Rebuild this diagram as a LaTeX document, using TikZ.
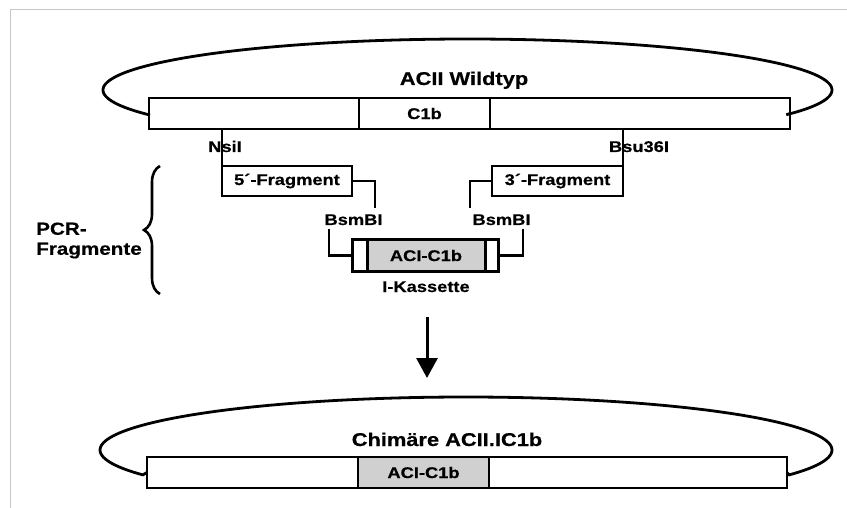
\documentclass[tikz,border=0pt]{standalone}
\usepackage{fontspec}
\setmainfont{Liberation Sans}[FakeStretch=1.18, BoldFeatures={FakeBold=0.5}]
\usetikzlibrary{arrows.meta,decorations.pathreplacing}
\definecolor{boxgray}{HTML}{D0D0D0}
\definecolor{framegray}{HTML}{C8C8C8}
\begin{document}
\begin{tikzpicture}[x=1pt,y=-1pt,
  seg/.style={draw, line width=2.8pt, minimum height=31pt, inner sep=0pt, outer sep=0pt,
    font=\bfseries\fontsize{15.5}{18}\selectfont},
  graybox/.style={seg, fill=boxgray},
  frag/.style={draw, line width=2.8pt, minimum height=30pt, inner sep=0pt, outer sep=0pt,
    font=\bfseries\fontsize{15.5}{18}\selectfont},
  conn/.style={line width=2.3pt},
  loop/.style={line width=2.8pt},
  biglab/.style={font=\bfseries\fontsize{18.5}{21}\selectfont, inner sep=0pt},
  smalllab/.style={font=\bfseries\fontsize{15.5}{18}\selectfont, inner sep=0pt},
]
\useasboundingbox (0,0) rectangle (847,508);
\draw[framegray, line width=1pt] (847,9.5) -- (10.5,9.5) -- (10.5,508);

% ---- top plasmid ----
\node[seg, minimum width=210pt] (a1) at (254,113.5) {};
\node[seg, minimum width=131pt] (a2) at (424.5,113.5) {C1b};
\node[seg, minimum width=300pt] (a3) at (640,113.5) {};
\draw[loop] (a1.west) -- plot[domain=151:389, samples=120, smooth] ({467.5+364.5*cos(\x)},{90+51*sin(\x)}) -- (a3.east);
\node[biglab, anchor=base] (tw) at (464,85) {ACII Wildtyp};

% ---- fragments ----
\node[frag, minimum width=130pt] (f5) at (287,181) {5´-Fragment};
\node[frag, minimum width=131pt] (f3) at (557.5,181) {3´-Fragment};
\draw[conn] (f5.north west |- a1.south) -- (f5.north west);
\draw[conn] (f3.north east |- a3.south) -- (f3.north east);
\node[smalllab, anchor=base] (nsi) at (225,152) {NsiI};
\node[smalllab, anchor=base] (bsu) at (639,152) {Bsu36I};

% ---- cassette ----
\node[draw, line width=3pt, minimum width=146pt, minimum height=31pt, inner sep=0pt, outer sep=0pt] (cas) at (425,255.5) {};
\node[draw, fill=boxgray, line width=3pt, minimum width=118pt, minimum height=31pt, inner sep=0pt, outer sep=0pt,
  font=\bfseries\fontsize{15.5}{18}\selectfont] (ci) at (426,255.5) {ACI-C1b};
\node[smalllab, anchor=base] (kas) at (426,292) {I-Kassette};

\coordinate (b1) at (375,208);
\coordinate (b2) at (329,229);
\coordinate (b3) at (523,229);
\coordinate (b4) at (470,208);
\draw[conn] (f5.east) -| (b1);
\draw[conn] (b2) |- (cas.west);
\draw[conn] (cas.east) -| (b3);
\draw[conn] (f3.west) -| (b4);
\node[smalllab, anchor=base] (bs1) at (353.5,225) {BsmBI};
\node[smalllab, anchor=base] (bs2) at (501.5,225) {BsmBI};

% ---- brace and label ----
\coordinate (br1) at (160,294);
\coordinate (br2) at (160,166);
\draw[line width=2.6pt, decorate, decoration={brace, amplitude=16pt}] (br1) -- (br2);
\node[font=\bfseries\fontsize{17.5}{20}\selectfont, align=left, anchor=west, inner sep=0pt] (pcr) at (36,240.5) {PCR-\\Fragmente};

% ---- arrow ----
\coordinate (ar1) at (427,317);
\coordinate (ar2) at (427,378);
\draw[line width=3pt, -{Triangle[width=21pt,length=20pt]}] (ar1) -- (ar2);

% ---- bottom plasmid ----
\node[seg, minimum width=211pt] (c1) at (252.5,472.5) {};
\node[graybox, minimum width=131pt, font=\bfseries\fontsize{15.5}{18}\selectfont] (c2) at (423.5,472.5) {ACI-C1b};
\node[seg, minimum width=298pt] (c3) at (638,472.5) {};
\draw[loop] (c1.west) -- plot[domain=152:388, samples=120, smooth] ({466+366*cos(\x)},{450+53*sin(\x)}) -- (c3.east);
\node[biglab, anchor=base] (cl) at (447,446) {Chimäre ACII.IC1b};
\end{tikzpicture}
\end{document}
